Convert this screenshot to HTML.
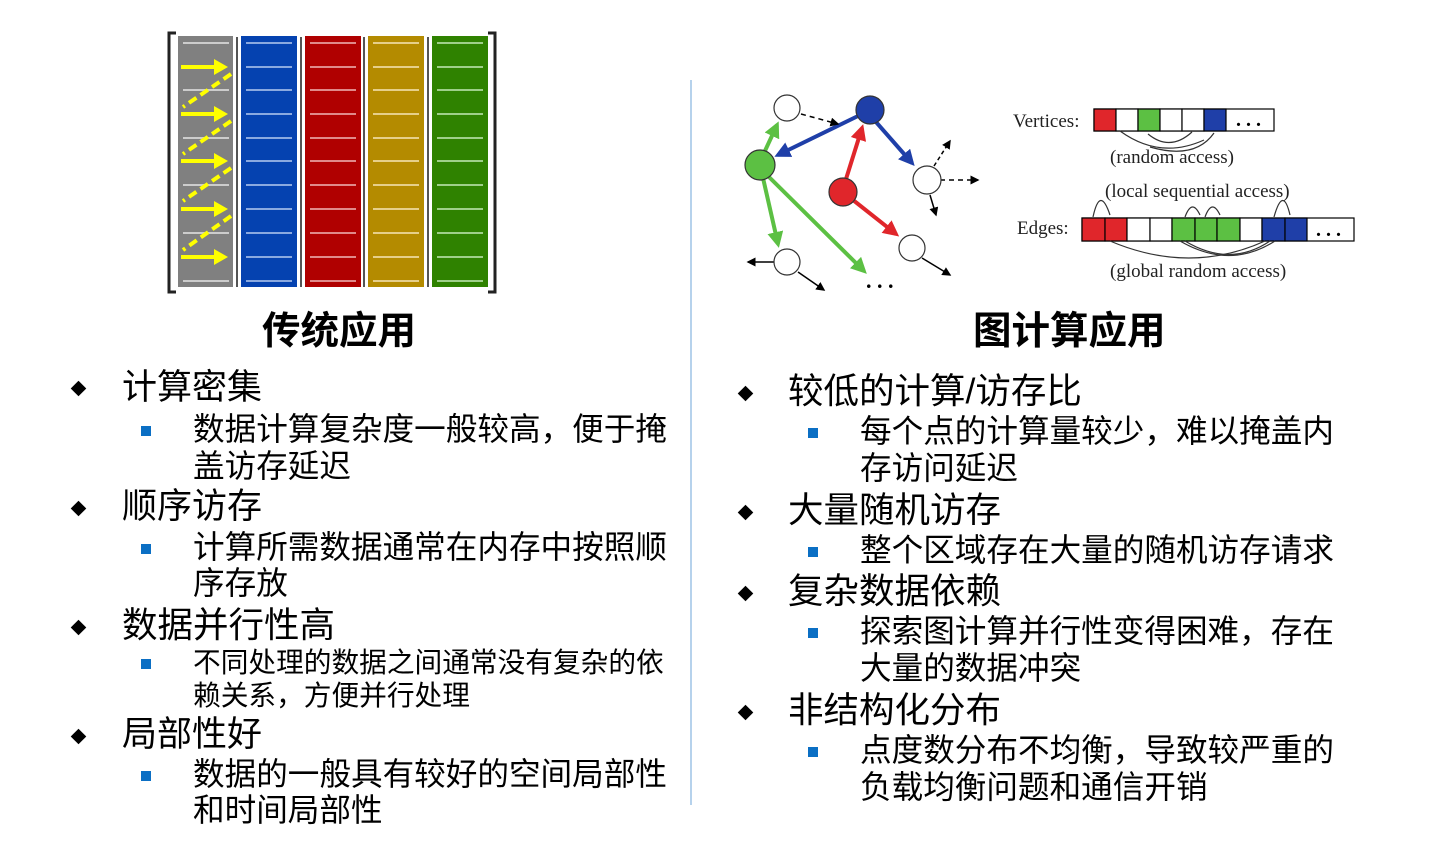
<!DOCTYPE html>
<html><head><meta charset="utf-8"><style>
body{margin:0;width:1454px;height:868px;background:#fff;position:relative;overflow:hidden;font-family:"Liberation Sans","Noto Sans CJK SC",sans-serif;color:#000}
.t{position:absolute;white-space:nowrap;line-height:1}
.d{position:absolute;width:11px;height:11px;background:#000;transform:rotate(45deg)}
.s{position:absolute;width:10px;height:10px;background:#0b6fc4}
</style></head><body>
<svg width="1454" height="868" style="position:absolute;left:0;top:0">
<defs>
<marker id="ay" markerWidth="3.5" markerHeight="4" refX="1" refY="2" orient="auto"><path d="M0,0L3.5,2L0,4z" fill="#ffff00"/></marker>
<marker id="ab" markerWidth="4" markerHeight="4" refX="3" refY="2" orient="auto"><path d="M0,0L4,2L0,4z" fill="#1f3fa8"/></marker>
<marker id="ag" markerWidth="4" markerHeight="4" refX="3" refY="2" orient="auto"><path d="M0,0L4,2L0,4z" fill="#5cc043"/></marker>
<marker id="ar" markerWidth="4" markerHeight="4" refX="3" refY="2" orient="auto"><path d="M0,0L4,2L0,4z" fill="#e0262b"/></marker>
<marker id="as" markerWidth="6" markerHeight="6" refX="5" refY="3" orient="auto"><path d="M0,0L6,3L0,6z" fill="#000"/></marker>
</defs>
<path d="M176,33H169V292H176" fill="none" stroke="#222" stroke-width="3"/>
<path d="M488,33H495V292H488" fill="none" stroke="#222" stroke-width="3"/>
<g>
<rect x="178" y="36" width="55" height="251" fill="#808080"/>
<rect x="241" y="36" width="56" height="251" fill="#0542b0"/>
<rect x="305" y="36" width="56" height="251" fill="#b00000"/>
<rect x="368" y="36" width="56" height="251" fill="#b48b00"/>
<rect x="432" y="36" width="56" height="251" fill="#2f8200"/>
<line x1="237" y1="37" x2="237" y2="287" stroke="#555" stroke-width="2"/>
<line x1="301" y1="37" x2="301" y2="287" stroke="#555" stroke-width="2"/>
<line x1="364" y1="37" x2="364" y2="287" stroke="#555" stroke-width="2"/>
<line x1="428" y1="37" x2="428" y2="287" stroke="#555" stroke-width="2"/>
</g>
<g stroke-width="2">
<g stroke="#ccc"><path d="M183,43H229M183,90H229M183,138H229M183,185H229M183,233H229M183,281H229"/></g>
<g stroke="#8aa9e0"><path d="M246,43H292M246,67H292M246,90H292M246,114H292M246,138H292M246,161H292M246,185H292M246,209H292M246,233H292M246,257H292M246,281H292"/></g>
<g stroke="#e08a8a"><path d="M310,43H356M310,67H356M310,90H356M310,114H356M310,138H356M310,161H356M310,185H356M310,209H356M310,233H356M310,257H356M310,281H356"/></g>
<g stroke="#e6cf8a"><path d="M373,43H419M373,67H419M373,90H419M373,114H419M373,138H419M373,161H419M373,185H419M373,209H419M373,233H419M373,257H419M373,281H419"/></g>
<g stroke="#9fd08a"><path d="M437,43H483M437,67H483M437,90H483M437,114H483M437,138H483M437,161H483M437,185H483M437,209H483M437,233H483M437,257H483M437,281H483"/></g>
</g>
<g stroke="#ffff00" stroke-width="4" fill="none">
<line x1="181" y1="67" x2="218" y2="67" marker-end="url(#ay)"/>
<line x1="181" y1="114" x2="218" y2="114" marker-end="url(#ay)"/>
<line x1="181" y1="161" x2="218" y2="161" marker-end="url(#ay)"/>
<line x1="181" y1="209" x2="218" y2="209" marker-end="url(#ay)"/>
<line x1="181" y1="257" x2="218" y2="257" marker-end="url(#ay)"/>
<g stroke-dasharray="9,5"><line x1="231" y1="74" x2="183" y2="107"/><line x1="231" y1="121" x2="183" y2="154"/><line x1="231" y1="168" x2="183" y2="201"/><line x1="231" y1="216" x2="183" y2="250"/></g>
</g>
<line x1="691" y1="80" x2="691" y2="805" stroke="#9ec3e6" stroke-width="1.5"/>
<g fill="none" stroke-width="4">
<line x1="858" y1="116" x2="778" y2="155" stroke="#1f3fa8" marker-end="url(#ab)"/>
<line x1="876" y1="122" x2="912" y2="163" stroke="#1f3fa8" marker-end="url(#ab)"/>
<line x1="846" y1="179" x2="862" y2="128" stroke="#e0262b" marker-end="url(#ar)"/>
<line x1="853" y1="200" x2="896" y2="234" stroke="#e0262b" marker-end="url(#ar)"/>
<line x1="764" y1="153" x2="777" y2="125" stroke="#5cc043" marker-end="url(#ag)"/>
<line x1="763" y1="178" x2="778" y2="244" stroke="#5cc043" marker-end="url(#ag)"/>
<line x1="768" y1="176" x2="864" y2="271" stroke="#5cc043" marker-end="url(#ag)"/>
</g>
<g stroke="#000" stroke-width="1.5" fill="none">
<line x1="801" y1="114" x2="838" y2="124" stroke-dasharray="5,4" marker-end="url(#as)"/>
<line x1="940" y1="180" x2="978" y2="180" stroke-dasharray="5,4" marker-end="url(#as)"/>
<line x1="934" y1="166" x2="950" y2="141" stroke-dasharray="4,3" marker-end="url(#as)"/>
<line x1="930" y1="195" x2="936" y2="215" marker-end="url(#as)"/>
<line x1="922" y1="258" x2="950" y2="275" marker-end="url(#as)"/>
<line x1="774" y1="262" x2="748" y2="262" marker-end="url(#as)"/>
<line x1="798" y1="272" x2="824" y2="290" marker-end="url(#as)"/>
</g>
<g stroke="#333" stroke-width="1.2">
<circle cx="787" cy="108" r="13" fill="#fff"/>
<circle cx="870" cy="110" r="14" fill="#1f3fa8"/>
<circle cx="760" cy="165" r="15" fill="#5cc043"/>
<circle cx="843" cy="192" r="14" fill="#e0262b"/>
<circle cx="927" cy="180" r="14" fill="#fff"/>
<circle cx="912" cy="248" r="13" fill="#fff"/>
<circle cx="787" cy="262" r="13" fill="#fff"/>
</g>
<text x="866" y="288" font-family="Liberation Serif" font-size="22" font-weight="bold">. . .</text>
<g stroke="#000" stroke-width="1.2">
<rect x="1094" y="109" width="180" height="22" fill="#fff"/>
<rect x="1094" y="109" width="22" height="22" fill="#e0262b"/>
<rect x="1116" y="109" width="22" height="22" fill="#fff"/>
<rect x="1138" y="109" width="22" height="22" fill="#5cc043"/>
<rect x="1160" y="109" width="22" height="22" fill="#fff"/>
<rect x="1182" y="109" width="22" height="22" fill="#fff"/>
<rect x="1204" y="109" width="22" height="22" fill="#1f3fa8"/>
</g>
<text x="1236" y="126" font-family="Liberation Serif" font-size="20" font-weight="bold">. . .</text>
<g fill="none" stroke="#333" stroke-width="1.2">
<path d="M1120,131 Q1160,160 1204,140"/><path d="M1192,132 Q1170,152 1148,134"/><path d="M1150,147 Q1195,160 1214,133"/>
</g>
<g stroke="#000" stroke-width="1.2">
<rect x="1082" y="218" width="272" height="23" fill="#fff"/>
<rect x="1082" y="218" width="23" height="23" fill="#e0262b"/>
<rect x="1105" y="218" width="22" height="23" fill="#e0262b"/>
<rect x="1127" y="218" width="23" height="23" fill="#fff"/>
<rect x="1150" y="218" width="22" height="23" fill="#fff"/>
<rect x="1172" y="218" width="23" height="23" fill="#5cc043"/>
<rect x="1195" y="218" width="22" height="23" fill="#5cc043"/>
<rect x="1217" y="218" width="23" height="23" fill="#5cc043"/>
<rect x="1240" y="218" width="22" height="23" fill="#fff"/>
<rect x="1262" y="218" width="23" height="23" fill="#1f3fa8"/>
<rect x="1285" y="218" width="22" height="23" fill="#1f3fa8"/>
</g>
<text x="1316" y="236" font-family="Liberation Serif" font-size="20" font-weight="bold">. . .</text>
<g fill="none" stroke="#333" stroke-width="1.2">
<path d="M1093,217 Q1100,185 1110,215"/><path d="M1185,217 Q1192,198 1200,215"/><path d="M1205,217 Q1212,198 1220,215"/><path d="M1274,217 Q1283,185 1290,215"/>
<path d="M1110,241 Q1190,275 1265,241"/><path d="M1180,241 Q1230,270 1275,241"/><path d="M1270,241 Q1230,268 1185,241"/>
</g>
<g font-family="Liberation Serif" font-size="19" fill="#222">
<text x="1013" y="127">Vertices:</text>
<text x="1110" y="163">(random access)</text>
<text x="1105" y="197">(local sequential access)</text>
<text x="1017" y="234">Edges:</text>
<text x="1110" y="277">(global random access)</text>
</g>
</svg>

<div class="t" style="left:262px;top:313px;font-size:38.5px;font-weight:bold">传统应用</div>
<div class="t" style="left:973px;top:313px;font-size:38.5px;font-weight:bold">图计算应用</div>

<div class="d" style="left:73px;top:383px"></div>
<div class="t" style="left:122px;top:370px;font-size:35px">计算密集</div>
<div class="s" style="left:141px;top:426px"></div>
<div class="t" style="left:193px;top:414px;font-size:31.6px">数据计算复杂度一般较高，便于掩</div>
<div class="t" style="left:193px;top:451px;font-size:31.6px">盖访存延迟</div>
<div class="d" style="left:73px;top:503px"></div>
<div class="t" style="left:122px;top:489px;font-size:35px">顺序访存</div>
<div class="s" style="left:141px;top:544px"></div>
<div class="t" style="left:193px;top:532px;font-size:31.6px">计算所需数据通常在内存中按照顺</div>
<div class="t" style="left:193px;top:568px;font-size:31.6px">序存放</div>
<div class="d" style="left:73px;top:622px"></div>
<div class="t" style="left:122px;top:608px;font-size:35.5px">数据并行性高</div>
<div class="s" style="left:141px;top:659px"></div>
<div class="t" style="left:193px;top:649px;font-size:27.7px">不同处理的数据之间通常没有复杂的依</div>
<div class="t" style="left:193px;top:682px;font-size:27.7px">赖关系，方便并行处理</div>
<div class="d" style="left:73px;top:731px"></div>
<div class="t" style="left:122px;top:717px;font-size:35px">局部性好</div>
<div class="s" style="left:141px;top:771px"></div>
<div class="t" style="left:193px;top:759px;font-size:31.6px">数据的一般具有较好的空间局部性</div>
<div class="t" style="left:193px;top:795px;font-size:31.6px">和时间局部性</div>

<div class="d" style="left:740px;top:388px"></div>
<div class="t" style="left:788px;top:374px;font-size:35.5px">较低的计算/访存比</div>
<div class="s" style="left:808px;top:428px"></div>
<div class="t" style="left:860px;top:416px;font-size:31.6px">每个点的计算量较少，难以掩盖内</div>
<div class="t" style="left:860px;top:453px;font-size:31.6px">存访问延迟</div>
<div class="d" style="left:740px;top:507px"></div>
<div class="t" style="left:788px;top:493px;font-size:35.5px">大量随机访存</div>
<div class="s" style="left:808px;top:547px"></div>
<div class="t" style="left:860px;top:535px;font-size:31.6px">整个区域存在大量的随机访存请求</div>
<div class="d" style="left:740px;top:588px"></div>
<div class="t" style="left:788px;top:574px;font-size:35.5px">复杂数据依赖</div>
<div class="s" style="left:808px;top:628px"></div>
<div class="t" style="left:860px;top:616px;font-size:31.6px">探索图计算并行性变得困难，存在</div>
<div class="t" style="left:860px;top:653px;font-size:31.6px">大量的数据冲突</div>
<div class="d" style="left:740px;top:707px"></div>
<div class="t" style="left:788px;top:693px;font-size:35.5px">非结构化分布</div>
<div class="s" style="left:808px;top:747px"></div>
<div class="t" style="left:860px;top:735px;font-size:31.6px">点度数分布不均衡，导致较严重的</div>
<div class="t" style="left:860px;top:772px;font-size:31.6px">负载均衡问题和通信开销</div>
</body></html>
